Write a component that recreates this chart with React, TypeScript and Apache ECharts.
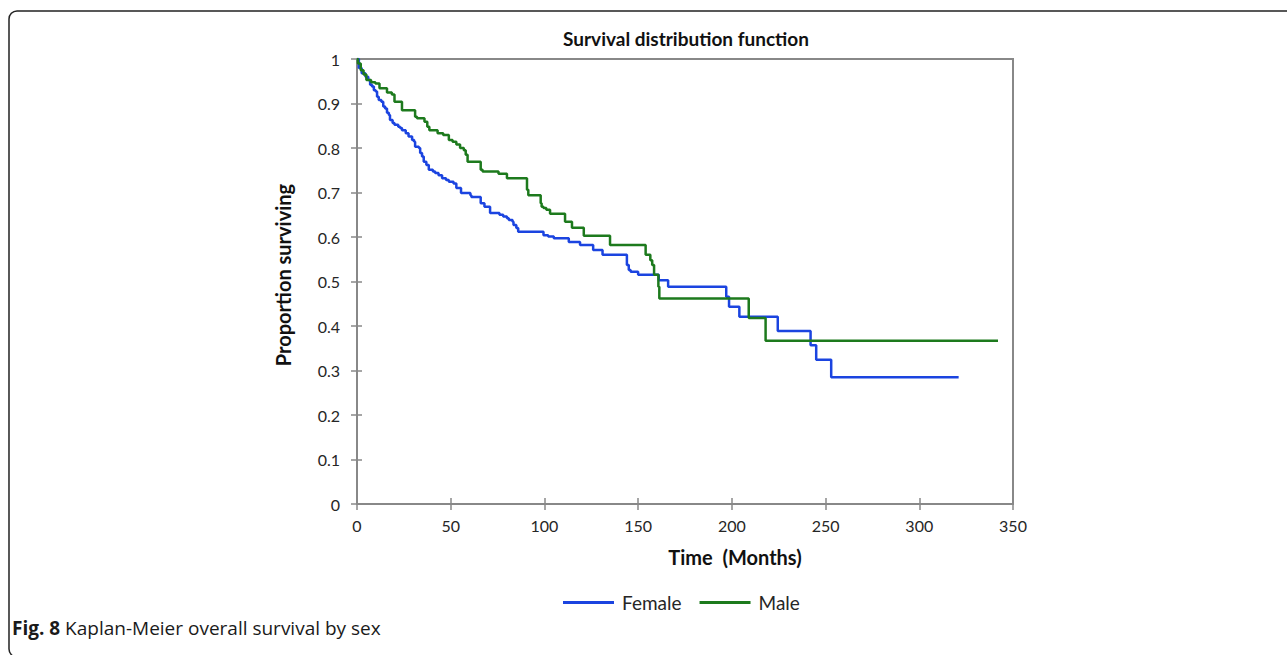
import React, { useEffect, useRef } from "react";
import * as echarts from "echarts";

// Kaplan-Meier step data (month of event, survival after event)
const femaleMonths = [0, 1, 2.5, 4.5, 6, 7, 8, 9, 10, 10.7, 11.6, 13, 14, 15, 16, 17, 17.6, 19, 20, 22, 23, 24, 26, 27.5, 29.4, 30.5, 31, 33, 33.7, 34.7, 35.6, 37, 38.3, 40.5, 41.7, 43.5, 45.4, 47.5, 49, 51.5, 53, 55.5, 60.5, 61, 66, 68, 71, 76, 78, 80, 81, 83, 83.5, 85, 86, 99.5, 102, 105, 113, 119, 126, 131, 144, 145, 146, 150, 161, 166, 197, 198.5, 204, 224.5, 242, 245, 253, 321];
const femaleSurvival = [1.0, 0.98, 0.968, 0.96, 0.953, 0.942, 0.938, 0.93, 0.927, 0.915, 0.908, 0.904, 0.893, 0.889, 0.879, 0.874, 0.863, 0.856, 0.852, 0.848, 0.845, 0.84, 0.833, 0.826, 0.818, 0.814, 0.803, 0.8, 0.789, 0.781, 0.769, 0.762, 0.751, 0.747, 0.744, 0.739, 0.732, 0.728, 0.724, 0.72, 0.71, 0.699, 0.694, 0.69, 0.676, 0.668, 0.654, 0.65, 0.646, 0.642, 0.638, 0.634, 0.627, 0.62, 0.612, 0.604, 0.601, 0.597, 0.589, 0.582, 0.571, 0.56, 0.537, 0.526, 0.522, 0.515, 0.503, 0.488, 0.466, 0.443, 0.421, 0.389, 0.357, 0.324, 0.285, 0.285];

const maleMonths = [0, 0.5, 2, 3.5, 5, 7.5, 9.8, 12, 16, 18.6, 20, 24, 31, 32, 36, 37.5, 38.6, 43, 46, 49, 51, 53, 55, 57, 58, 59, 66, 67, 75.5, 80, 90.7, 91.4, 98, 98.5, 99.5, 101, 103, 111, 114.7, 121, 135, 154, 156.5, 157.5, 158.5, 160.8, 161.3, 209, 218, 342];
const maleSurvival = [1.0, 0.99, 0.975, 0.965, 0.953, 0.948, 0.945, 0.934, 0.925, 0.92, 0.904, 0.885, 0.87, 0.867, 0.859, 0.848, 0.84, 0.833, 0.829, 0.818, 0.814, 0.808, 0.8, 0.795, 0.785, 0.769, 0.751, 0.747, 0.742, 0.732, 0.706, 0.694, 0.676, 0.668, 0.665, 0.661, 0.652, 0.634, 0.621, 0.603, 0.582, 0.56, 0.548, 0.537, 0.515, 0.488, 0.462, 0.418, 0.367, 0.367];

const seriesNames = ["Female", "Male"];
const seriesColors = ["#1b44e0", "#1d7a1d"];

const xMin = 0, xMax = 350, xInterval = 50;
const yMin = 0, yMax = 1, yInterval = 0.1;

const chartTitle = "Survival distribution function";
const xTitle = "Time  (Months)";
const yTitle = "Proportion surviving";
const captionBold = "Fig. 8";
const captionText = " Kaplan-Meier overall survival by sex";

export default function App() {
  const ref = useRef<HTMLDivElement>(null);
  useEffect(() => {
    if (!ref.current) return;
    const chart = echarts.init(ref.current, null, { renderer: "svg" });
    const zip = (xs: number[], ys: number[]) => xs.map((x, i) => [x, ys[i]]);
    const axisColor = "#888888";
    const font = "Lato, 'Open Sans', sans-serif";
    const tickLabel = { color: "#262626", fontSize: 16, fontFamily: font };
    const baseX = { type: "value", min: xMin, max: xMax, interval: xInterval, splitLine: { show: false } };
    const baseY = { type: "value", min: yMin, max: yMax, interval: yInterval, splitLine: { show: false } };
    chart.setOption({
      animation: false,
      backgroundColor: "#ffffff",
      grid: { left: 357, top: 59, width: 656, height: 445, show: true, borderColor: axisColor, borderWidth: 2, containLabel: false },
      xAxis: [
        {
          ...baseX,
          position: "bottom",
          axisLine: { show: true, lineStyle: { color: axisColor, width: 2 } },
          axisTick: { show: true, length: 6, lineStyle: { color: axisColor, width: 1.5 } },
          axisLabel: { ...tickLabel, margin: 13 },
        },
        {
          ...baseX,
          position: "bottom",
          axisLine: { show: false },
          axisTick: { show: true, inside: true, length: 6, lineStyle: { color: axisColor, width: 1.5 } },
          axisLabel: { show: false },
        },
      ],
      yAxis: [
        {
          ...baseY,
          position: "left",
          axisLine: { show: true, lineStyle: { color: axisColor, width: 2 } },
          axisTick: { show: true, length: 6, lineStyle: { color: axisColor, width: 1.5 } },
          axisLabel: {
            ...tickLabel,
            margin: 17,
            formatter: (v: number) => String(parseFloat(v.toFixed(1))),
          },
        },
        {
          ...baseY,
          position: "left",
          axisLine: { show: false },
          axisTick: { show: true, inside: true, length: 5, lineStyle: { color: axisColor, width: 1.5 } },
          axisLabel: { show: false },
        },
      ],
      legend: {
        data: seriesNames.map((n) => ({ name: n, icon: "rect" })),
        left: 558,
        top: 588,
        itemWidth: 51,
        itemHeight: 3,
        itemGap: 18,
        textStyle: { color: "#262626", fontSize: 19, fontFamily: font, padding: [0, 0, 0, 3] },
      },
      series: [
        {
          name: seriesNames[0],
          type: "line",
          step: "end",
          symbol: "none",
          showSymbol: false,
          data: zip(femaleMonths, femaleSurvival),
          lineStyle: { color: seriesColors[0], width: 2.5 },
          itemStyle: { color: seriesColors[0] },
        },
        {
          name: seriesNames[1],
          type: "line",
          step: "end",
          symbol: "none",
          showSymbol: false,
          data: zip(maleMonths, maleSurvival),
          lineStyle: { color: seriesColors[1], width: 2.5 },
          itemStyle: { color: seriesColors[1] },
        },
      ],
      graphic: [
        {
          type: "rect",
          shape: { x: 9, y: 11, width: 1400, height: 646, r: 8 },
          style: { fill: "none", stroke: "#222222", lineWidth: 1.5 },
          silent: true,
        },
        {
          type: "text",
          x: 686,
          y: 38,
          style: { text: chartTitle, fill: "#111111", font: `bold 19px ${font}`, textAlign: "center", textVerticalAlign: "middle" },
        },
        {
          type: "text",
          x: 735,
          y: 557,
          style: { text: xTitle, fill: "#111111", font: `bold 20px ${font}`, textAlign: "center", textVerticalAlign: "middle" },
        },
        {
          type: "text",
          x: 283,
          y: 275,
          rotation: Math.PI / 2,
          style: { text: yTitle, fill: "#111111", font: `bold 20px ${font}`, textAlign: "center", textVerticalAlign: "middle" },
        },
        {
          type: "text",
          x: 12,
          y: 628,
          style: {
            text: `{b|${captionBold}}{n|${captionText}}`,
            textVerticalAlign: "middle",
            rich: {
              b: { fontWeight: "bold", fontSize: 19, fontFamily: "'Open Sans', sans-serif", fill: "#1a1a1a", color: "#1a1a1a" },
              n: { fontSize: 19, fontFamily: "'Open Sans', sans-serif", fill: "#1a1a1a", color: "#1a1a1a" },
            },
          },
        },
      ],
    });
    return () => chart.dispose();
  }, []);
  return <div ref={ref} style={{ position: "fixed", left: 0, top: 0, width: 1287, height: 655 }} />;
}
